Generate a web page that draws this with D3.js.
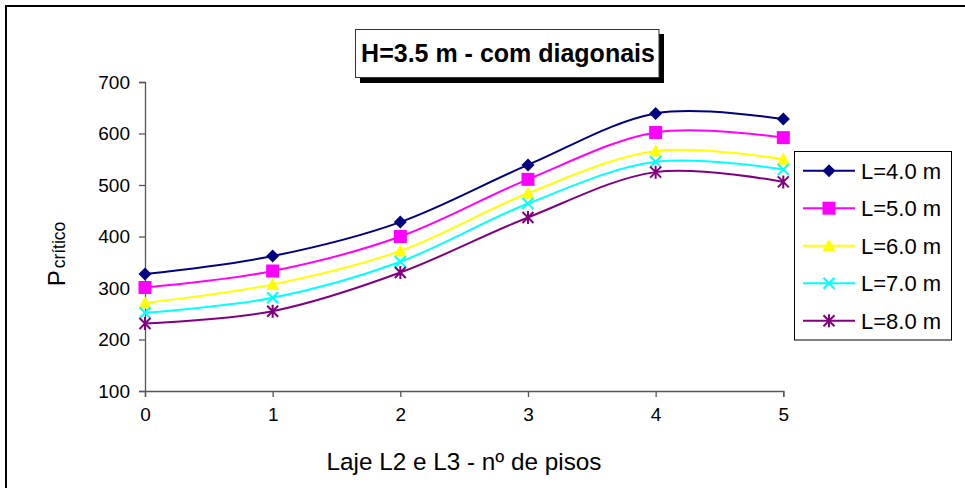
<!DOCTYPE html>
<html>
<head>
<meta charset="utf-8">
<script src="https://cdn.jsdelivr.net/npm/d3@7"></script>
<style>
  html, body { margin: 0; padding: 0; background: #fff; }
  svg { display: block; font-family: Arial, "Liberation Sans", sans-serif; }
</style>
</head>
<body>
<svg id="chart" width="965" height="488"></svg>
<script>
// Number of floors (x categories)
const floors = [0, 1, 2, 3, 4, 5];
// Series labels
const seriesNames = ["L=4.0 m", "L=5.0 m", "L=6.0 m", "L=7.0 m", "L=8.0 m"];
// Critical load per series
const valsL4 = [327, 362, 428, 539, 639, 628];
const valsL5 = [301, 333, 400, 511, 602, 592];
const valsL6 = [271, 307, 372, 484, 566, 550];
const valsL7 = [252, 281, 351, 464, 545, 530];
const valsL8 = [231, 255, 330, 437, 525, 506];
const yTicks = [100, 200, 300, 400, 500, 600, 700];

const colors = ["#000080", "#ff00ff", "#ffff00", "#00ffff", "#800080"];
const markers = ["diamond", "square", "triangle", "cross", "asterisk"];
const allVals = [valsL4, valsL5, valsL6, valsL7, valsL8];

const svg = d3.select("#chart");

// Outer chart frame
svg.append("rect")
  .attr("x", 6).attr("y", 6).attr("width", 1000).attr("height", 1000)
  .attr("fill", "#fff").attr("stroke", "#000").attr("stroke-width", 2);

const x = d3.scaleLinear().domain([0, 5]).range([145, 783.3]);
const y = d3.scaleLinear().domain([100, 700]).range([391, 82]);

// Axes
const yAxis = d3.axisLeft(y).tickValues(yTicks).tickSize(6).tickPadding(9);
const gy = svg.append("g").attr("transform", `translate(${x(0)},0)`).call(yAxis);
const xAxis = d3.axisBottom(x).tickValues(floors).tickFormat(d3.format("d")).tickSize(6).tickPadding(11);
const gx = svg.append("g").attr("transform", `translate(0,${y(100)})`).call(xAxis);
[gx, gy].forEach(g => {
  g.select(".domain").attr("stroke", "#555").attr("stroke-width", 1.3);
  g.selectAll(".tick line").attr("stroke", "#555").attr("stroke-width", 1.3);
  g.selectAll(".tick text").attr("fill", "#000").style("font-size", "19px");
});

// Axis titles
svg.append("text")
  .attr("x", 464).attr("y", 470)
  .attr("text-anchor", "middle")
  .style("font-size", "24.3px")
  .text("Laje L2 e L3 - nº de pisos");

const yTitle = svg.append("text")
  .attr("transform", "translate(65,254) rotate(-90)")
  .attr("text-anchor", "middle");
yTitle.append("tspan").style("font-size", "24px").text("P");
yTitle.append("tspan").style("font-size", "17.5px").attr("dx", 2).text("crítico");

// Marker symbols
function drawMarker(g, type, color, cx, cy) {
  if (type === "diamond") {
    g.append("path").attr("d", `M${cx},${cy-6.5}L${cx+6.5},${cy}L${cx},${cy+6.5}L${cx-6.5},${cy}Z`).attr("fill", color);
  } else if (type === "square") {
    g.append("rect").attr("x", cx - 6.5).attr("y", cy - 6.5).attr("width", 13).attr("height", 13).attr("fill", color);
  } else if (type === "triangle") {
    g.append("path").attr("d", `M${cx},${cy-7}L${cx+6.5},${cy+5.5}L${cx-6.5},${cy+5.5}Z`).attr("fill", color);
  } else if (type === "cross") {
    g.append("path").attr("d", `M${cx-5.5},${cy-5.5}L${cx+5.5},${cy+5.5}M${cx+5.5},${cy-5.5}L${cx-5.5},${cy+5.5}`)
      .attr("stroke", color).attr("stroke-width", 2).attr("fill", "none");
  } else {
    g.append("path").attr("d", `M${cx-5.5},${cy-5.5}L${cx+5.5},${cy+5.5}M${cx+5.5},${cy-5.5}L${cx-5.5},${cy+5.5}M${cx},${cy-6.5}L${cx},${cy+6.5}`)
      .attr("stroke", color).attr("stroke-width", 2).attr("fill", "none");
  }
}

// Smoothed series lines
const line = d3.line()
  .x((d, i) => x(floors[i]))
  .y(d => y(d))
  .curve(d3.curveCardinal.tension(0));

allVals.forEach((vals, s) => {
  svg.append("path")
    .attr("d", line(vals))
    .attr("fill", "none")
    .attr("stroke", colors[s])
    .attr("stroke-width", 2);
});
allVals.forEach((vals, s) => {
  const g = svg.append("g");
  vals.forEach((v, i) => drawMarker(g, markers[s], colors[s], x(floors[i]), y(v)));
});

// Title box with drop shadow
svg.append("rect").attr("x", 360).attr("y", 34).attr("width", 304).attr("height", 49).attr("fill", "#000");
svg.append("rect").attr("x", 355.5).attr("y", 29.5).attr("width", 303.5).attr("height", 48)
  .attr("fill", "#fff").attr("stroke", "#333").attr("stroke-width", 1);
svg.append("text")
  .attr("x", 508).attr("y", 62)
  .attr("text-anchor", "middle")
  .style("font-size", "25px").style("font-weight", "bold")
  .text("H=3.5 m - com diagonais");

// Legend
const lg = svg.append("g");
lg.append("rect").attr("x", 794.5).attr("y", 151.5).attr("width", 157).attr("height", 188.5)
  .attr("fill", "#fff").attr("stroke", "#000").attr("stroke-width", 1);
seriesNames.forEach((name, s) => {
  const ly = 170.7 + s * 37.5;
  lg.append("line").attr("x1", 803).attr("x2", 855).attr("y1", ly).attr("y2", ly)
    .attr("stroke", colors[s]).attr("stroke-width", 2);
  drawMarker(lg, markers[s], colors[s], 829, ly);
  lg.append("text").attr("x", 861).attr("y", ly + 8)
    .style("font-size", "22px").text(name);
});
</script>
</body>
</html>
